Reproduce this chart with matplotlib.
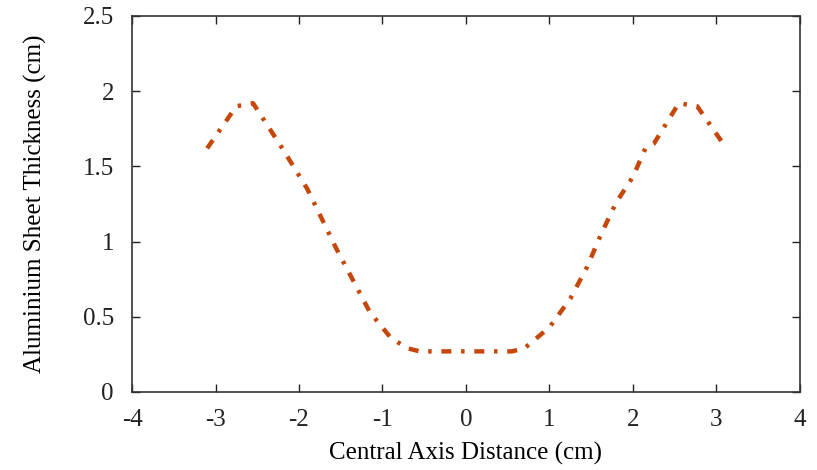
import numpy as np
import matplotlib
matplotlib.use("Agg")
import matplotlib.pyplot as plt

plt.rcParams["font.family"] = ["Liberation Serif", "DejaVu Serif"]
plt.rcParams["lines.scale_dashes"] = False
plt.rcParams["axes.unicode_minus"] = False

# distance from the central axis (cm) and sheet thickness (cm)
dist = [-3.1, -2.75, -2.55, -2.2, -1.9, -1.55, -1.35, -1.15, -0.9, -0.7, -0.55,
        0.55, 0.7, 1.0, 1.25, 1.45, 1.62, 1.8, 2.0, 2.15, 2.25, 2.55, 2.77, 3.12]
thick = [1.62, 1.90, 1.92, 1.62, 1.35, 0.95, 0.74, 0.53, 0.36, 0.29, 0.27,
         0.27, 0.29, 0.43, 0.62, 0.83, 1.05, 1.26, 1.43, 1.62, 1.65, 1.92, 1.90, 1.62]

fig = plt.figure(figsize=(8.17, 4.70), dpi=100)
ax = fig.add_axes([0.1616, 0.166, 0.8174, 0.800])

line, = ax.plot(dist, thick, color="#c5470a", linewidth=3.2,
                solid_capstyle="butt", dash_capstyle="butt")
line.set_dashes([7.2, 7.0, 2.5, 7.0])

ax.set_xlim(-4, 4)
ax.set_ylim(0, 2.5)
ax.set_xticks(np.arange(-4, 5, 1))
ax.set_yticks([0, 0.5, 1, 1.5, 2, 2.5])
ax.set_yticklabels(["0", "0.5", "1", "1.5", "2", "2.5"])

ax.tick_params(direction="in", length=6, width=1, top=True, right=True,
               labelsize=18, colors="#222222")
ax.tick_params(axis="y", pad=13)
ax.tick_params(axis="x", pad=12)
for s in ax.spines.values():
    s.set_linewidth(1.2)
    s.set_color("#333333")

ax.set_xlabel("Central Axis Distance (cm)", fontsize=18, labelpad=8)
ax.set_ylabel("Aluminium Sheet Thickness (cm)", fontsize=18, labelpad=26)

fig.savefig("out.png", dpi=100)
